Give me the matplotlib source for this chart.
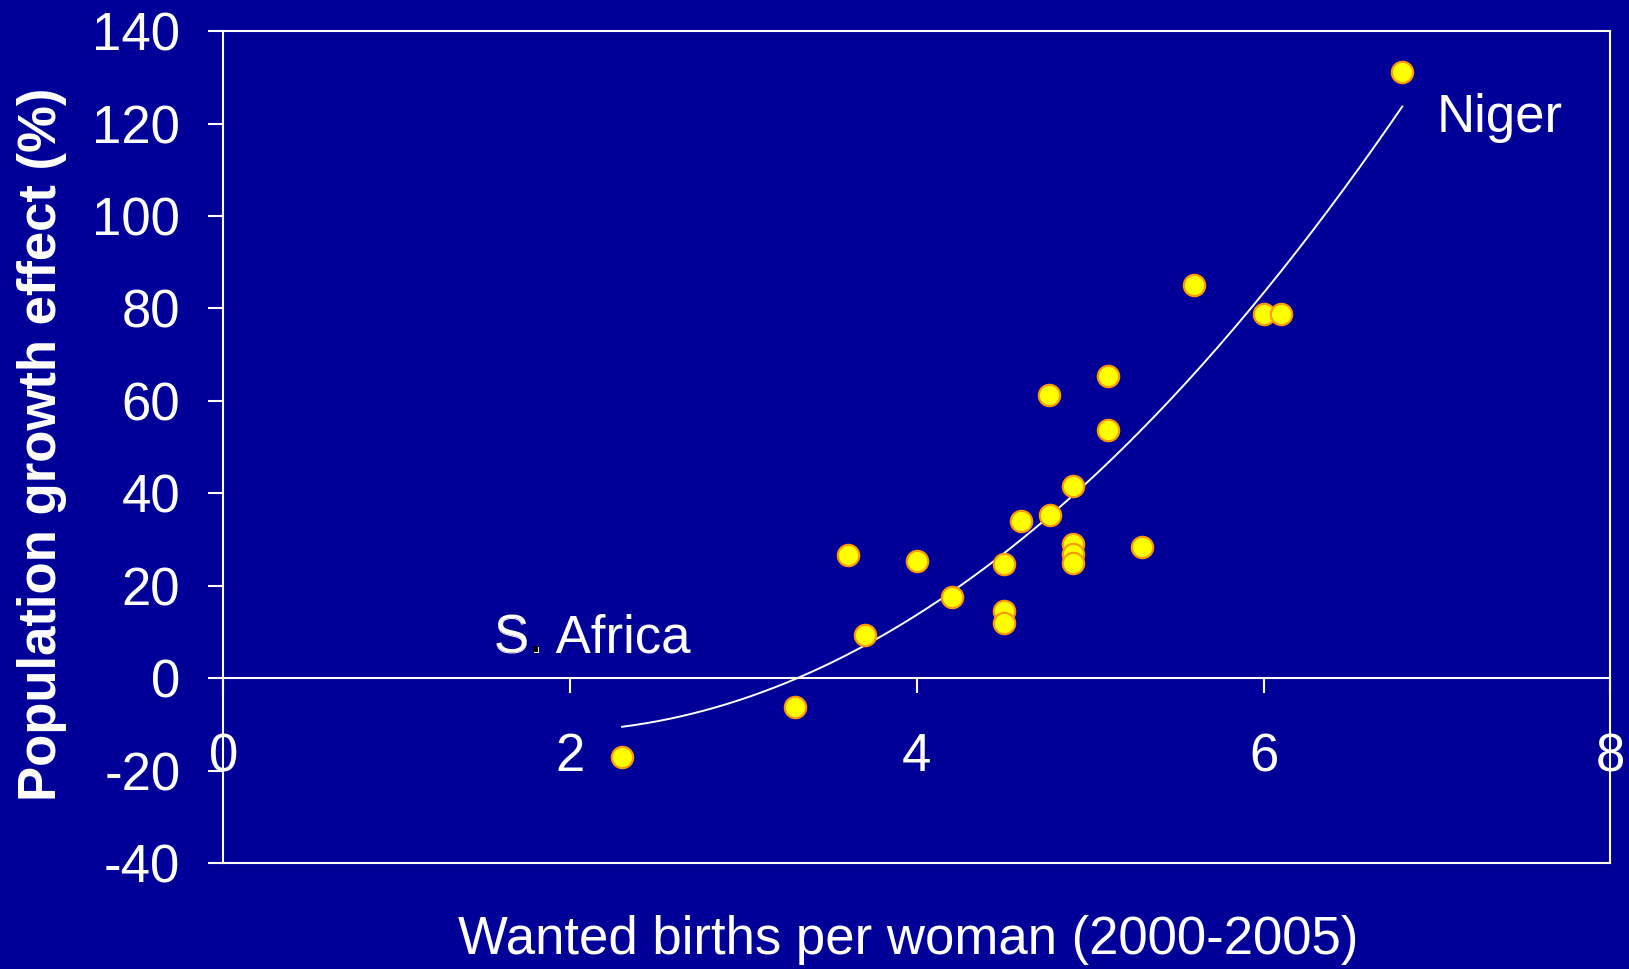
import numpy as np
import matplotlib
matplotlib.use("Agg")
import matplotlib.pyplot as plt

plt.rcParams['font.family'] = ['Liberation Sans', 'DejaVu Sans']

# Data: wanted births per woman vs population growth effect (%)
wanted_births = [2.3, 3.3, 3.6, 3.7, 4.0, 4.2, 4.5, 4.5, 4.5, 4.6, 4.76, 4.77,
                 4.9, 4.9, 4.9, 4.9, 5.1, 5.1, 5.3, 5.6, 6.0, 6.1, 6.8]
growth_effect = [-17.0, -6.3, 26.6, 9.4, 25.4, 17.5, 24.6, 14.5, 11.9, 33.9, 61.2, 35.4,
                 41.5, 29.1, 26.9, 24.9, 65.4, 53.7, 28.3, 85.0, 78.9, 78.9, 131.2]
x_ticks = [0, 2, 4, 6, 8]
y_ticks = [-40, -20, 0, 20, 40, 60, 80, 100, 120, 140]

BG = '#000099'
W, H = 1629, 969
fig = plt.figure(figsize=(W / 100, H / 100), dpi=100, facecolor=BG)
ax = fig.add_axes([223.4 / W, 1 - 863 / H, (1610.3 - 223.4) / W, (863 - 31.2) / H])
ax.set_facecolor(BG)

x = np.array(wanted_births)
y = np.array(growth_effect)

# quadratic trend line (least squares) over data range
coef = np.polyfit(x, y, 2)
xs = np.linspace(x.min(), x.max(), 200)
ax.plot(xs, np.polyval(coef, xs), color='white', lw=1.4, zorder=2)

ax.scatter(x, y, s=235, facecolor='#FFFF00', edgecolor='#FF9900', linewidths=1.6, zorder=3)

ax.set_xlim(0, 8)
ax.set_ylim(-40, 140)
ax.set_xticks(x_ticks)
ax.set_yticks(y_ticks)
ax.set_xticklabels([str(v) for v in x_ticks])
ax.set_yticklabels([str(v) for v in y_ticks])

for s in ax.spines.values():
    s.set_color('white')
    s.set_linewidth(1.5)
ax.spines['bottom'].set_position(('data', 0))
ax.axhline(-40, color='white', lw=1.5, clip_on=False, zorder=1)

ax.tick_params(axis='y', direction='out', length=11, width=1.5, colors='white',
               labelsize=38, pad=20)
ax.tick_params(axis='x', direction='out', length=11, width=1.5, colors='white',
               labelsize=38, pad=28)

ax.set_ylabel('Population growth effect (%)', color='white', fontsize=38,
              fontweight='bold')
ax.yaxis.set_label_coords(-0.131, 0.5036)
ax.set_xlabel('Wanted births per woman (2000-2005)', color='white', fontsize=38)
ax.xaxis.set_label_coords(0.4936, -0.0925)
ax.xaxis.label.set_va('center')
ax.yaxis.label.set_va('center')

ax.text(7.0, 121.3, 'Niger', color='white', fontsize=38, ha='left', va='center')
sa_x, sa_y = 1.56, 8.5
ax.text(sa_x, sa_y, 'S. Africa', color='white', fontsize=38, ha='left', va='center')
ax.text(sa_x, sa_y, 'S.', color='black', fontsize=38, ha='left', va='center')
ax.text(sa_x, sa_y, 'S', color='white', fontsize=38, ha='left', va='center')

fig.savefig('out.png', dpi=100, facecolor=BG)
